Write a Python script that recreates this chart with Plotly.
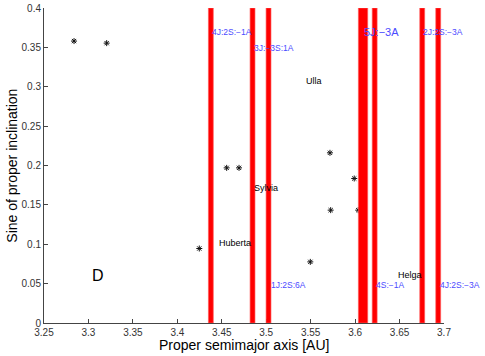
import plotly.graph_objects as go

# resonance centres [AU] and their drawn widths
res_a = [3.4377, 3.4846, 3.5026, 3.6089, 3.6220, 3.6755, 3.6935]
res_w = [0.0055, 0.0055, 0.0055, 0.0105, 0.0055, 0.0055, 0.0055]

# asteroid family members (proper a, sin i)
ast_a = [3.2838, 3.3205, 3.4555, 3.4694, 3.5717, 3.5990, 3.5725, 3.6035, 3.5496, 3.4247]
ast_s = [0.358, 0.3554, 0.197, 0.197, 0.2161, 0.1835, 0.1433, 0.1433, 0.0776, 0.0946]

# named bodies
name_txt = ["Ulla", "Sylvia", "Huberta", "Helga"]
name_a = [3.5437, 3.4855, 3.4454, 3.6468]
name_s = [0.3073, 0.1716, 0.1022, 0.0615]

# resonance labels
lab_txt = ["4J:2S:−1A", "3J:−3S:1A", "5J:−3A", "2J:2S:−3A", "1J:2S:6A", "4S:−1A", "4J:2S:−3A"]
lab_a = [3.4375, 3.4848, 3.6092, 3.6749, 3.5042, 3.6224, 3.6944]
lab_s = [0.370, 0.3496, 0.3691, 0.3691, 0.0488, 0.0488, 0.0488]
lab_size = [8.5, 8.5, 11, 8.5, 8.5, 8.5, 8.5]

x_ticks = [3.25, 3.3, 3.35, 3.4, 3.45, 3.5, 3.55, 3.6, 3.65, 3.7]
y_ticks = [0, 0.05, 0.1, 0.15, 0.2, 0.25, 0.3, 0.35, 0.4]

FONT = "Liberation Sans, Arial, sans-serif"
BLUE = "#4b4bff"

fig = go.Figure()

fig.add_trace(go.Scatter(
    x=ast_a, y=ast_s, mode="markers",
    marker=dict(symbol="asterisk", size=5, color="#111", line=dict(width=1, color="#111")),
    showlegend=False, cliponaxis=False,
))
fig.add_trace(go.Scatter(
    x=[3.3105], y=[0.0585], mode="text", text=["D"],
    textfont=dict(family=FONT, size=16, color="black"), showlegend=False,
))

# resonance bands drawn on top of the points
for a, w in zip(res_a, res_w):
    fig.add_shape(type="rect", xref="x", yref="y", x0=a - w / 2, x1=a + w / 2, y0=0, y1=0.4,
                  fillcolor="red", line=dict(width=0.8, color="rgba(255,90,90,0.8)"), layer="above")

# labels as annotations so they sit over the bands
for t, a, s in zip(name_txt, name_a, name_s):
    fig.add_annotation(text=t, x=a, y=s, xref="x", yref="y", xanchor="left", yanchor="middle",
                       showarrow=False, borderpad=0, font=dict(family=FONT, size=9, color="black"))
for t, a, s, fs in zip(lab_txt, lab_a, lab_s, lab_size):
    fig.add_annotation(text=t, x=a, y=s, xref="x", yref="y", xanchor="left", yanchor="middle",
                       showarrow=False, borderpad=0, font=dict(family=FONT, size=fs, color=BLUE))

axis = dict(showgrid=False, zeroline=False, showline=True, linecolor="#444", linewidth=1,
            ticks="inside", ticklen=4, tickcolor="#444", tickfont=dict(family=FONT, size=10, color="#333"),
            mirror=False, automargin=False)
fig.update_xaxes(axis, range=[3.25, 3.7], tickvals=x_ticks, ticktext=[f"{v:g}" for v in x_ticks])
fig.update_yaxes(axis, range=[0, 0.4], tickvals=y_ticks, ticktext=[f"{v:g}" for v in y_ticks])

# axis titles as paper annotations so the margins stay fixed
fig.add_annotation(text="Proper semimajor axis [AU]", xref="paper", yref="paper", x=0.5, y=-0.07,
                   xanchor="center", yanchor="middle", showarrow=False,
                   font=dict(family=FONT, size=14, color="black"))
fig.add_annotation(text="Sine of proper inclination", xref="paper", yref="paper", x=-0.082, y=0.5,
                   xanchor="center", yanchor="middle", textangle=-90, showarrow=False,
                   font=dict(family=FONT, size=14, color="black"))

fig.update_layout(
    width=485, height=356, margin=dict(l=44, r=41, t=8, b=33, autoexpand=False),
    plot_bgcolor="white", paper_bgcolor="white", font=dict(family=FONT),
)
# the page's default 8px body margin would push the figure off the window
fig.write_html("out.html", config={"displayModeBar": False},
               post_script="document.body.style.margin='0';")
